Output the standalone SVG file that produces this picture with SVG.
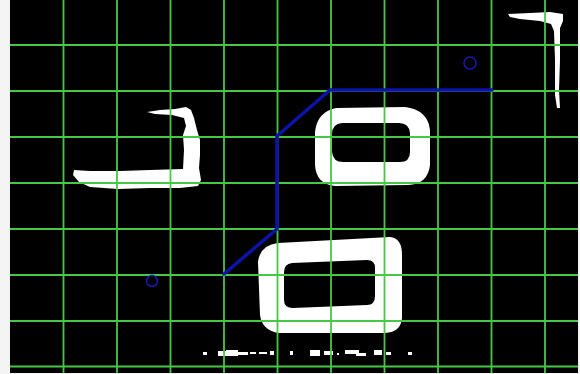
<svg xmlns="http://www.w3.org/2000/svg" width="580" height="374" viewBox="0 0 580 374">
<style>
.grid line{stroke:#46c846;stroke-width:1.8}
.blob{fill:#ffffff}
.path{fill:none;stroke:#0c14a8;stroke-width:3.5;stroke-linejoin:round;stroke-linecap:round}
.mark{fill:none;stroke:#1a1ab0;stroke-width:1.5}
</style>
<rect x="0" y="0" width="580" height="374" fill="#f4f4f4"/>
<rect x="10" y="0" width="568" height="373" fill="#000000"/>
<g id="shapes">
<path class="blob" d="M147,112 L160,110 L175,109 L186,107 L191,110 L194,118 L197,130 L200,140 L200,155 L199,168 L201,180 L198,186 L180,188 L150,188 L118,189 L90,187 L79,182 L73,175 L74,170 L90,171 L120,171 L150,170 L183,169 L184,150 L183,135 L186,126 L184,118 L172,115 L155,114 Z"/>
<path class="blob" d="M508,14 L530,13 L550,12 L563,14 L563,21 L560,28 L560,60 L559,90 L560,108 L557,108 L555,95 L555,60 L554,31 L551,24 L540,21 L520,19 L510,17 Z"/>
<path class="blob" fill-rule="evenodd" d="M336,108 L405,107 Q428,110 430,130 L430,165 Q428,184 408,185 L335,186 Q316,184 315,165 L315,132 Q317,112 336,108 Z M342,123 Q332,124 332,134 L332,152 Q333,162 343,162 L400,162 Q410,162 410,152 L410,133 Q409,123 399,123 Z"/>
<path class="blob" fill-rule="evenodd" d="M278,243 L390,237 Q402,238 402,255 L402,318 Q401,332 385,333 L278,333 Q262,330 260,315 L258,262 Q260,245 278,243 Z M292,263 Q284,264 284,272 L284,300 Q284,308 293,308 L367,305 Q375,305 375,296 L375,268 Q375,260 367,260 Z"/>
<g class="blob">
<rect x="203" y="352" width="4" height="3"/>
<rect x="218" y="351" width="8" height="5"/>
<rect x="226" y="350" width="12" height="6"/>
<rect x="238" y="352" width="10" height="3"/>
<rect x="250" y="352" width="6" height="2"/>
<rect x="259" y="352" width="8" height="2"/>
<rect x="270" y="351" width="4" height="4"/>
<rect x="290" y="351" width="3" height="4"/>
<rect x="310" y="350" width="10" height="6"/>
<rect x="324" y="351" width="9" height="4"/>
<rect x="337" y="353" width="2" height="2"/>
<rect x="345" y="350" width="14" height="4"/>
<rect x="356" y="353" width="10" height="3"/>
<rect x="374" y="350" width="8" height="5"/>
<rect x="386" y="352" width="5" height="3"/>
<rect x="408" y="352" width="4" height="3"/>
</g>
</g>
<g class="grid">
<line x1="63.5" y1="0" x2="63.5" y2="373"/>
<line x1="117" y1="0" x2="117" y2="373"/>
<line x1="170.5" y1="0" x2="170.5" y2="373"/>
<line x1="224" y1="0" x2="224" y2="373"/>
<line x1="277.5" y1="0" x2="277.5" y2="373"/>
<line x1="331" y1="0" x2="331" y2="373"/>
<line x1="384.5" y1="0" x2="384.5" y2="373"/>
<line x1="438" y1="0" x2="438" y2="373"/>
<line x1="491.5" y1="0" x2="491.5" y2="373"/>
<line x1="545" y1="0" x2="545" y2="373"/>
<line x1="10" y1="45" x2="578" y2="45"/>
<line x1="10" y1="91" x2="578" y2="91"/>
<line x1="10" y1="137" x2="578" y2="137"/>
<line x1="10" y1="183" x2="578" y2="183"/>
<line x1="10" y1="229" x2="578" y2="229"/>
<line x1="10" y1="275" x2="578" y2="275"/>
<line x1="10" y1="321" x2="578" y2="321"/>
<line x1="10" y1="366.5" x2="578" y2="366.5"/>
</g>
<g id="connectors">
<polyline class="path" points="224,274 277,229 277,136 330,90 492,90"/>
</g>
<g id="markers">
<circle class="mark" cx="470" cy="63" r="6"/>
<circle class="mark" cx="152" cy="281" r="5.5"/>
</g>
</svg>
